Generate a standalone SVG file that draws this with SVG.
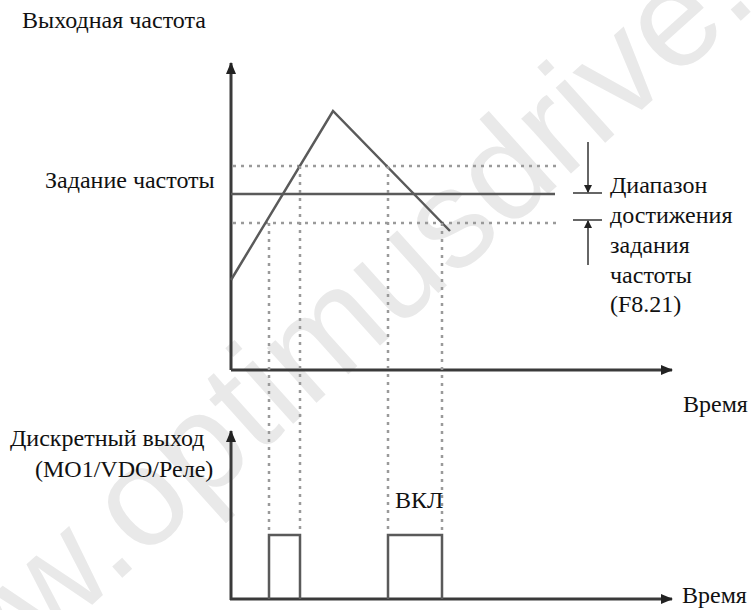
<svg xmlns="http://www.w3.org/2000/svg" width="752" height="610" viewBox="0 0 752 610">
<style>
.lb{font-family:"Liberation Serif","Times New Roman",serif;fill:#111;font-size:24px}
.ax{stroke:#3a3a3a;stroke-width:3;fill:none}
.ln{stroke:#5a5a5a;stroke-width:2.5;fill:none}
.dt{stroke:#9a9a9a;stroke-width:2.5;stroke-dasharray:3 5;fill:none}
.br{stroke:#666;stroke-width:2;fill:none}
.wm{font-family:"Liberation Sans",Arial,sans-serif;font-size:140px;fill:#e9e9e9}
</style>
<defs>
<marker id="ah" viewBox="0 0 12 10" refX="11" refY="5" markerWidth="12" markerHeight="10" markerUnits="userSpaceOnUse" orient="auto">
<path d="M0,0 L12,5 L0,10 z" fill="#222"/>
</marker>
<marker id="sa" viewBox="0 0 8 8" refX="7" refY="4" markerWidth="8" markerHeight="8" markerUnits="userSpaceOnUse" orient="auto">
<path d="M0,0 L8,4 L0,8 z" fill="#222"/>
</marker>
</defs>
<g id="watermark">
<text class="wm" transform="translate(-107,784) rotate(-42)">www.optimusdrive.ru</text>
</g>
<g id="top-chart">
<line class="ax" x1="231" y1="370" x2="231" y2="63" marker-end="url(#ah)"/>
<line class="ax" x1="231" y1="370" x2="672" y2="370" marker-end="url(#ah)"/>
<line class="ln" x1="231" y1="194" x2="555" y2="194"/>
<line class="dt" x1="233" y1="166" x2="557" y2="166"/>
<line class="dt" x1="233" y1="223" x2="557" y2="223"/>
<polyline class="ln" points="231,280 333,111 450,231"/>
</g>
<g id="guides">
<line class="dt" x1="269" y1="223" x2="269" y2="533"/>
<line class="dt" x1="300" y1="166" x2="300" y2="533"/>
<line class="dt" x1="388" y1="166" x2="388" y2="533"/>
<line class="dt" x1="442" y1="223" x2="442" y2="533"/>
</g>
<g id="range-bracket">
<line class="br" x1="573" y1="193" x2="602" y2="193"/>
<line class="br" x1="573" y1="220" x2="602" y2="220"/>
<line class="br" x1="588" y1="142" x2="588" y2="192" marker-end="url(#sa)"/>
<line class="br" x1="588" y1="265" x2="588" y2="221" marker-end="url(#sa)"/>
</g>
<g id="bottom-chart">
<line class="ax" x1="231" y1="600" x2="231" y2="431" marker-end="url(#ah)"/>
<line class="ax" x1="230" y1="599" x2="672" y2="599" marker-end="url(#ah)"/>
<polyline class="ln" points="269,599 269,535 300,535 300,599"/>
<polyline class="ln" points="388,599 388,535 442,535 442,599"/>
</g>
<g id="labels">
<text class="lb" x="22" y="28">Выходная частота</text>
<text class="lb" x="45" y="188">Задание частоты</text>
<text class="lb" x="610" y="193">Диапазон</text>
<text class="lb" x="610" y="223">достижения</text>
<text class="lb" x="610" y="253">задания</text>
<text class="lb" x="610" y="283">частоты</text>
<text class="lb" x="610" y="312">(F8.21)</text>
<text class="lb" x="683" y="412">Время</text>
<text class="lb" x="10" y="446">Дискретный выход</text>
<text class="lb" x="35" y="477">(MO1/VDO/Реле)</text>
<text class="lb" x="395" y="508">ВКЛ</text>
<text class="lb" x="682" y="603">Время</text>
</g>
</svg>
